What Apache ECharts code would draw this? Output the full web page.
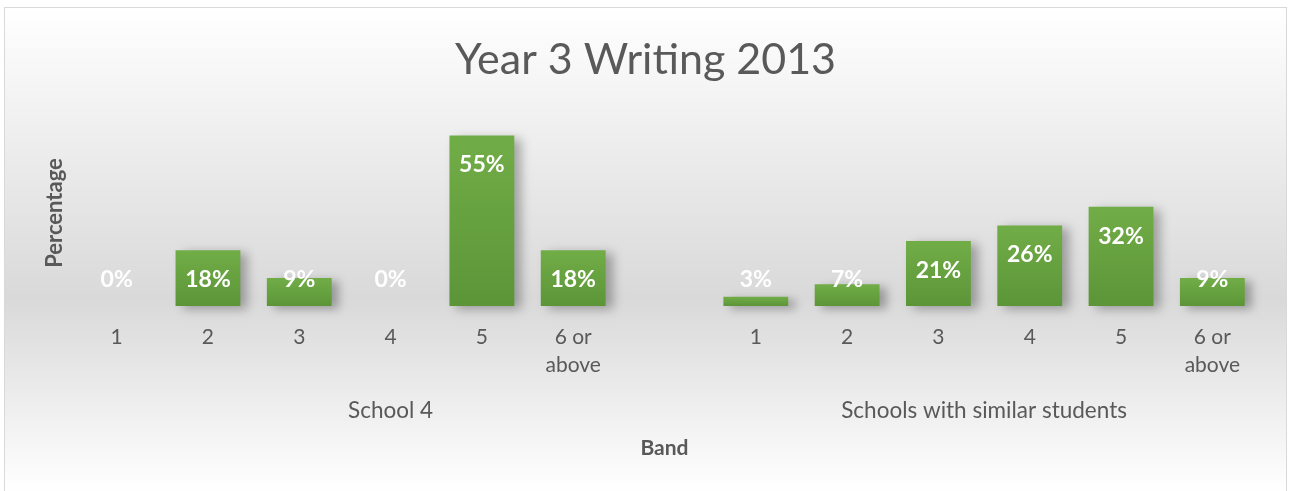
<!DOCTYPE html>
<html>
<head>
<meta charset="utf-8">
<script src="https://cdn.jsdelivr.net/npm/echarts@6/dist/echarts.min.js"></script>
<style>
  html, body { margin: 0; padding: 0; background: #ffffff; width: 1293px; height: 491px; overflow: hidden; }
  #frame { position: absolute; left: 4px; top: 7px; width: 1281px; height: 520px; border: 1px solid #d9d9d9; }
  #chart { width: 1281px; height: 484px; }
</style>
</head>
<body>
<div id="frame"><div id="chart"></div></div>
<script>
// Band labels shown under each bar (first axis level)
const bands = ['1', '2', '3', '4', '5', '6 or\nabove'];
// Group labels (second axis level)
const groups = ['School 4', 'Schools with similar students'];
// Percentage of students in each band
const school4 = [0, 18, 9, 0, 55, 18];
const similar = [3, 7, 21, 26, 32, 9];
// Y axis range (percent)
const yMax = 60;

// The first group carries one empty slot after its bands
const groupSlots = [bands.length + 1, bands.length];
const categories = bands.concat(['']).concat(bands);
const values = school4.concat(['-']).concat(similar);
const totalSlots = categories.length;

// Group label sits at the middle of its span on a 0..totalSlots value scale
const groupCenters = [];
let start = 0;
groupSlots.forEach(n => { groupCenters.push(start + n / 2); start += n; });

// Short bars keep their label just above the baseline, taller ones show it inside the top
const barData = values.map(v => {
  if (v === '-') return v;
  const tall = v >= 18;
  return {
    value: v,
    label: tall
      ? { position: 'insideTop', distance: 18 }
      : { position: 'insideBottom', distance: 15 }
  };
});

const font = 'Lato, "Open Sans", sans-serif';
const chart = echarts.init(document.getElementById('chart'), null, { renderer: 'canvas' });
chart.setOption({
  animation: false,
  backgroundColor: new echarts.graphic.LinearGradient(0, 0, 0, 1, [
    { offset: 0, color: '#ffffff' },
    { offset: 0.6, color: '#d9d9d9' },
    { offset: 1, color: '#ffffff' }
  ]),
  title: {
    text: 'Year 3 Writing 2013',
    left: 'center',
    top: 26,
    textStyle: { fontFamily: font, fontSize: 43, fontWeight: 'normal', color: '#595959' }
  },
  grid: { left: 66, right: 28, top: 112, bottom: 186, containLabel: false },
  xAxis: [
    {
      type: 'category',
      data: categories,
      position: 'bottom',
      axisLine: { show: false },
      axisTick: { show: false },
      axisLabel: {
        interval: 0, margin: 17, color: '#595959',
        fontFamily: font, fontSize: 21, lineHeight: 28
      }
    },
    {
      type: 'value',
      min: 0,
      max: totalSlots,
      interval: 0.5,
      position: 'bottom',
      axisLine: { show: false },
      axisTick: { show: false },
      splitLine: { show: false },
      axisLabel: {
        margin: 93, color: '#595959', fontFamily: font, fontSize: 22.5,
        formatter: v => {
          const i = groupCenters.indexOf(v);
          return i >= 0 ? groups[i] : '';
        }
      },
      name: 'Band',
      nameLocation: 'middle',
      nameGap: 132,
      nameTextStyle: { fontFamily: font, fontSize: 21, fontWeight: 'bold', color: '#595959' }
    }
  ],
  yAxis: {
    type: 'value',
    min: 0,
    max: yMax,
    axisLine: { show: false },
    axisTick: { show: false },
    axisLabel: { show: false },
    splitLine: { show: false },
    name: 'Percentage',
    nameLocation: 'middle',
    nameRotate: 90,
    nameGap: 5,
    nameTextStyle: { fontFamily: font, fontSize: 22, fontWeight: 'bold', color: '#595959' }
  },
  series: [{
    type: 'bar',
    xAxisIndex: 0,
    data: barData,
    barCategoryGap: '29%',
    itemStyle: {
      color: new echarts.graphic.LinearGradient(0, 0, 0, 1, [
        { offset: 0, color: '#71ad47' },
        { offset: 1, color: '#5c9538' }
      ]),
      shadowColor: 'rgba(0,0,0,0.3)',
      shadowBlur: 10,
      shadowOffsetX: 7,
      shadowOffsetY: 3
    },
    label: {
      show: true,
      color: '#ffffff',
      fontFamily: font,
      fontSize: 23,
      fontWeight: 'bold',
      formatter: p => p.value + '%'
    }
  }]
});
</script>
</body>
</html>
